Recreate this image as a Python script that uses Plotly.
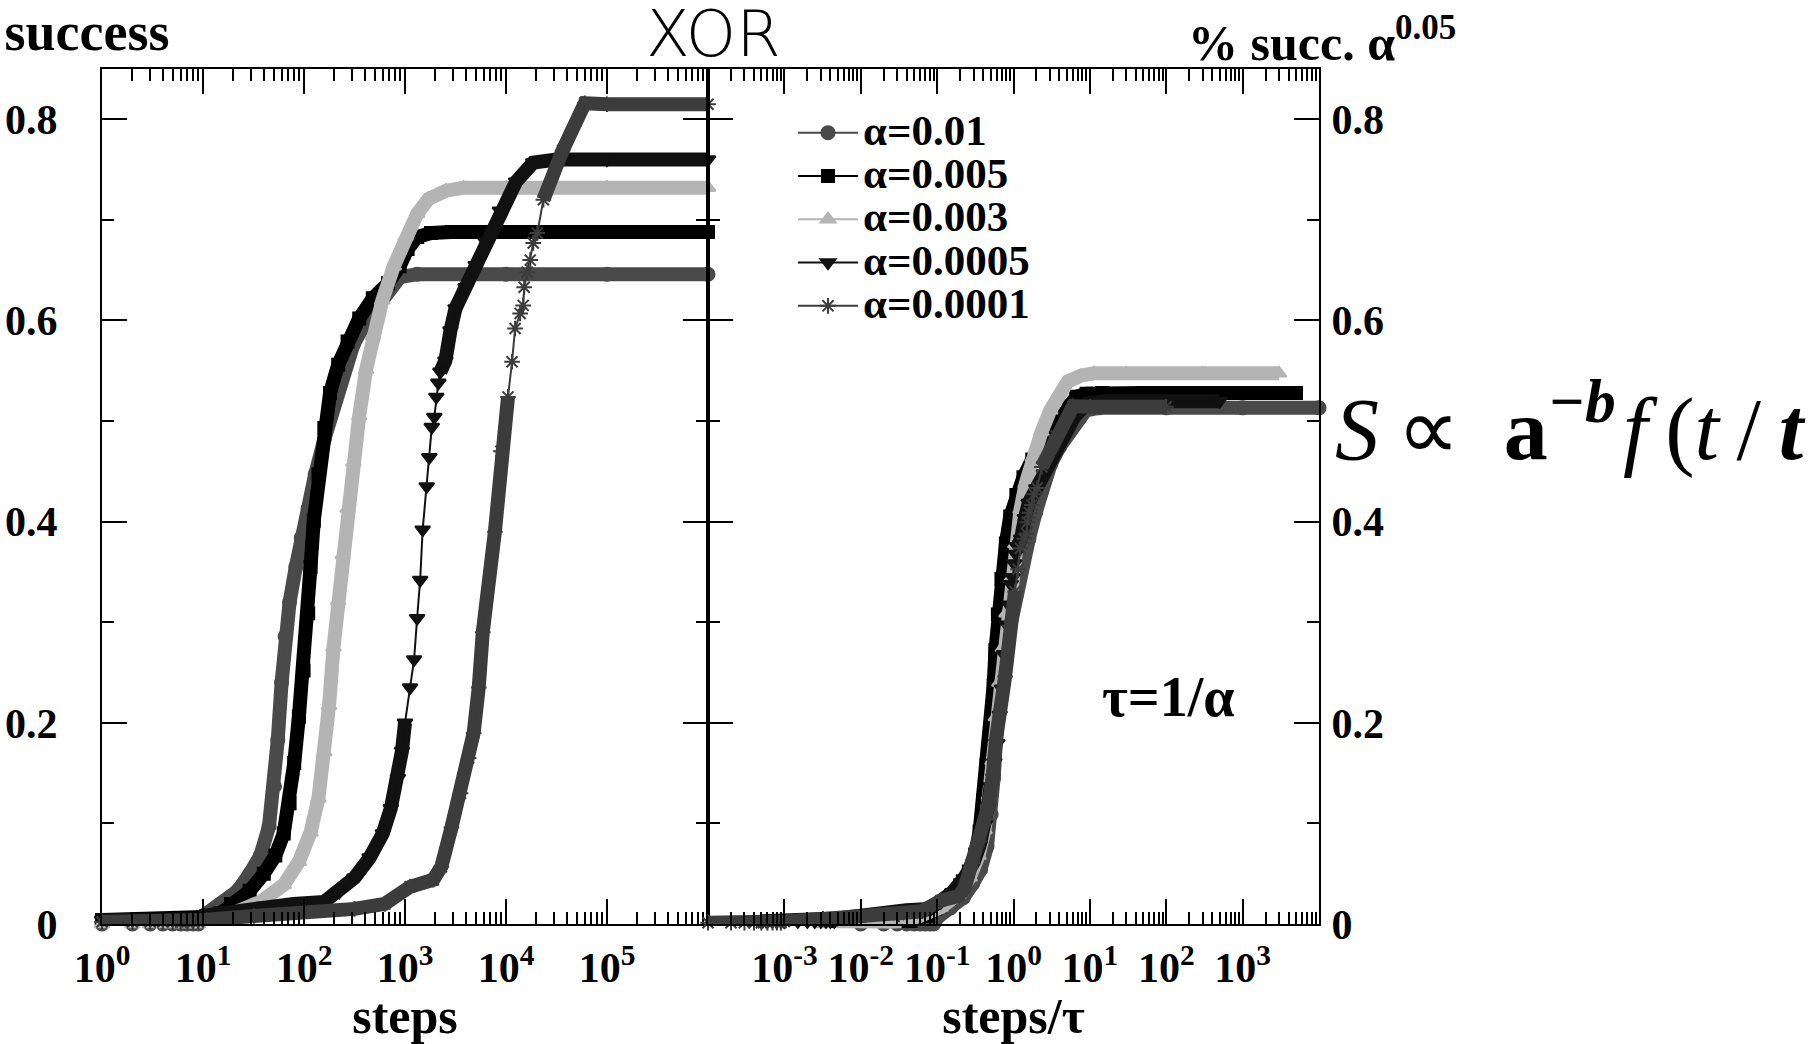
import plotly.graph_objects as go

# ---------------- data ----------------
alphas = [0.01, 0.005, 0.003, 0.0005, 0.0001]
names = ["α=0.01", "α=0.005", "α=0.003", "α=0.0005", "α=0.0001"]

steps_a01 = [1, 2, 3, 4, 5, 6, 7, 8, 9, 10, 15, 22, 29, 37, 45, 51, 55, 60, 65, 72, 83, 94,
             110, 129, 159, 196, 242, 308, 401, 522, 680, 886, 1320, 1e4, 1e5, 1e6]
succ_a01 = [0, 0, 0, 0, 0, 0, 0, 0, 0, 0.008, 0.02, 0.033, 0.05, 0.068, 0.097, 0.137, 0.183,
            0.24, 0.286, 0.32, 0.355, 0.384, 0.413, 0.447, 0.482, 0.516, 0.55, 0.576, 0.597,
            0.614, 0.631, 0.643, 0.646, 0.646, 0.646, 0.646]

steps_a005 = [1, 2, 3, 4, 5, 6, 7, 8, 9, 10, 15, 19, 29, 40, 52, 63, 72, 80, 89, 99, 110, 116,
              125, 139, 159, 181, 218, 270, 352, 480, 680, 886, 1060, 1320, 1810, 2900,
              1e4, 1e5, 1e6]
succ_a005 = [0.004, 0.004, 0.004, 0.004, 0.004, 0.004, 0.004, 0.004, 0.004, 0.007, 0.011,
             0.02, 0.033, 0.05, 0.068, 0.09, 0.12, 0.16, 0.206, 0.252, 0.309, 0.355, 0.401,
             0.447, 0.493, 0.528, 0.556, 0.579, 0.602, 0.622, 0.637, 0.654, 0.671, 0.683,
             0.687, 0.688, 0.688, 0.688, 0.688]

steps_a003 = [1, 2, 3, 4, 5, 6, 7, 8, 9, 10, 19, 37, 63, 89, 116, 139, 159, 177, 196, 218,
              242, 270, 308, 352, 412, 480, 596, 775, 1010, 1320, 1710, 2560, 3800,
              1e4, 1e5, 1e6]
succ_a003 = [0, 0, 0, 0, 0, 0, 0, 0, 0, 0.004, 0.01, 0.022, 0.039, 0.062, 0.091, 0.125,
             0.171, 0.217, 0.275, 0.321, 0.367, 0.413, 0.459, 0.505, 0.551, 0.585, 0.62,
             0.654, 0.683, 0.706, 0.721, 0.729, 0.732, 0.732, 0.732, 0.732]

steps_a0005 = [1, 2, 3, 4, 5, 6, 7, 8, 9, 10, 20, 40, 79, 158, 224, 316, 447, 603, 724, 851,
               933, 1000,
               1122, 1230, 1318, 1413, 1496, 1641, 1738, 1841, 1950, 2042, 2138, 2239,
               2512, 2818, 3162, 3981, 5012, 6310, 8710, 12590, 18620, 31620, 1e5, 1e6]
succ_a0005 = [0.004, 0.004, 0.004, 0.004, 0.004, 0.004, 0.004, 0.004, 0.004, 0.008, 0.012,
              0.018, 0.02, 0.022, 0.032, 0.046, 0.066, 0.09, 0.115, 0.145, 0.172, 0.2,
              0.235, 0.263, 0.304, 0.342, 0.392, 0.435, 0.464, 0.494, 0.504, 0.524, 0.538,
              0.549,
              0.56, 0.59, 0.612, 0.633, 0.655, 0.678, 0.709, 0.738, 0.757, 0.76, 0.76, 0.76]

steps_a0001 = [1, 2, 3, 4, 5, 6, 7, 8, 9, 10, 32, 100, 316, 631, 1122, 1905, 2291, 2884,
               3548, 4266, 4786, 5370, 5888, 7762, 8913, 10470,
               11480, 12300, 13800, 14790, 15140, 16220, 17380, 18620, 20420,
               23440, 36310, 60260, 1e5, 1e6]
succ_a0001 = [0.002, 0.002, 0.002, 0.002, 0.002, 0.002, 0.002, 0.002, 0.002, 0.004, 0.008,
              0.011, 0.015, 0.02, 0.037, 0.044, 0.057, 0.096, 0.13, 0.165, 0.19, 0.235, 0.29,
              0.39, 0.47, 0.524,
              0.559, 0.592, 0.607, 0.615, 0.633, 0.648, 0.66, 0.677, 0.687,
              0.72, 0.769, 0.816, 0.815, 0.815]

all_steps = [steps_a01, steps_a005, steps_a003, steps_a0005, steps_a0001]
all_succ = [succ_a01, succ_a005, succ_a003, succ_a0005, succ_a0001]

# right panel: steps/tau with tau = 1/alpha, success * alpha^0.05
scale_exp = 0.05

left_ticks = [1, 10, 100, 1e3, 1e4, 1e5]
left_ticktext = ["10<sup>0</sup>", "10<sup>1</sup>", "10<sup>2</sup>", "10<sup>3</sup>",
                 "10<sup>4</sup>", "10<sup>5</sup>"]
right_ticks = [1e-3, 1e-2, 1e-1, 1, 10, 100, 1e3]
right_ticktext = ["10<sup>-3</sup>", "10<sup>-2</sup>", "10<sup>-1</sup>", "10<sup>0</sup>",
                  "10<sup>1</sup>", "10<sup>2</sup>", "10<sup>3</sup>"]

# ---------------- styles ----------------
colors = ["#4a4a4a", "#000000", "#b4b4b4", "#111111", "#3c3c3c"]
symbols = ["circle", "square", "triangle-up", "triangle-down", "asterisk-open"]
msizes = [13, 12, 13, 13, 13]
# index ranges where the measured curve is sparsely sampled (no thick band there)
sparse = {3: (22, 32), 4: (26, 34)}

W, H = 1814, 1044
ML, MR, MT, MB = 102, 495, 69, 120
PW = W - ML - MR
PH = H - MT - MB
SPLIT = 708


def px_x(p):
    return (p - ML) / PW


def px_y(p):
    return (H - MB - p) / PH


SERIF = "Liberation Serif"
fig = go.Figure()

for i in range(5):
    xs = all_steps[i]
    ys = all_succ[i]
    a = alphas[i]
    xr = [s * a for s in xs]
    yr = [v * a ** scale_exp for v in ys]
    for (X, Y, xa, ya) in [(xs, ys, "x", "y"), (xr, yr, "x2", "y2")]:
        band_y = list(Y)
        if i in sparse:
            lo, hi = sparse[i]
            for k in range(lo, hi + 1):
                band_y[k] = None
        fig.add_trace(go.Scatter(
            x=X, y=band_y, mode="lines", xaxis=xa, yaxis=ya,
            line=dict(color=colors[i], width=14), connectgaps=False,
            showlegend=False, hoverinfo="skip"))
        fig.add_trace(go.Scatter(
            x=X, y=Y, mode="lines+markers", xaxis=xa, yaxis=ya,
            name='<span style="font-size:43px">' + names[i] + '</span>',
            line=dict(color=colors[i], width=2),
            marker=dict(symbol=symbols[i], size=msizes[i], color=colors[i],
                        line=dict(color=colors[i], width=2)),
            cliponaxis=False, showlegend=(xa == "x"), hoverinfo="skip"))

tickfont = dict(family=SERIF, size=42, color="black", weight="bold")
common_x = dict(type="log", showline=True, linecolor="black", linewidth=2, mirror="ticks",
                ticks="inside", ticklen=25, tickwidth=2, tickcolor="black", showgrid=False,
                zeroline=False, tickfont=tickfont, tickmode="array", automargin=False,
                ticklabelstandoff=6,
                title_font=dict(family=SERIF, size=50, color="black", weight="bold"))
minor_left = [k * 10 ** n for n in range(0, 6) for k in range(2, 10)]
minor_right = [k * 10.0 ** n for n in range(-4, 4) for k in range(2, 10)]
minor_y = dict(ticks="inside", ticklen=12, tickwidth=2, tickcolor="black", dtick=0.1,
               showgrid=False)
common_y = dict(range=[0, 0.85], showline=True, linecolor="black", linewidth=2,
                mirror="ticks", ticks="inside", ticklen=25, tickwidth=2, tickcolor="black",
                dtick=0.2, tick0=0, showgrid=False, zeroline=False, tickfont=tickfont,
                automargin=False, minor=minor_y)

fig.update_layout(
    width=W, height=H, margin=dict(l=ML, r=MR, t=MT, b=MB, autoexpand=False),
    paper_bgcolor="white", plot_bgcolor="white",
    xaxis=dict(common_x, domain=[0, px_x(SPLIT)], range=[0, 6], anchor="y",
               tickvals=left_ticks, ticktext=left_ticktext,
               minor=dict(ticks="inside", ticklen=12, tickwidth=2, tickcolor="black",
                          tickmode="array", tickvals=minor_left, showgrid=False),
               title=dict(text="steps", standoff=0)),
    xaxis2=dict(common_x, domain=[px_x(SPLIT), 1], range=[-4, 4], anchor="y2",
                tickvals=right_ticks, ticktext=right_ticktext,
                minor=dict(ticks="inside", ticklen=12, tickwidth=2, tickcolor="black",
                           tickmode="array", tickvals=minor_right, showgrid=False),
                title=dict(text="steps/τ", standoff=0)),
    yaxis=dict(common_y, anchor="x", ticklabelstandoff=34),
    yaxis2=dict(common_y, anchor="x2", side="right", ticklabelstandoff=2),
    legend=dict(x=px_x(793), y=px_y(106), xanchor="left", yanchor="top",
                bgcolor="rgba(0,0,0,0)", itemwidth=60, tracegroupgap=0,
                font=dict(family=SERIF, size=31, color="black", weight="bold")),
    showlegend=True,
)

ann_font = dict(family=SERIF, color="black", weight="bold")
fig.add_annotation(xref="paper", yref="paper", x=px_x(713), y=px_y(34), text="XOR",
                   showarrow=False, xanchor="center", yanchor="middle",
                   font=dict(family="DejaVu Sans", size=64, color="black", weight=200))
fig.add_annotation(xref="paper", yref="paper", x=px_x(171), y=px_y(32), text="% success",
                   showarrow=False, xanchor="right", yanchor="middle",
                   font=dict(ann_font, size=54))
fig.add_annotation(xref="paper", yref="paper", x=px_x(1186), y=px_y(40),
                   text="% succ. α<sup>0.05</sup>",
                   showarrow=False, xanchor="left", yanchor="middle",
                   font=dict(ann_font, size=50))
fig.add_annotation(xref="paper", yref="paper", x=px_x(1168), y=px_y(697), text="τ=1/α",
                   showarrow=False, xanchor="center", yanchor="middle",
                   font=dict(ann_font, size=56))
fig.add_annotation(xref="paper", yref="paper", x=px_x(1333), y=px_y(422),
                   text="<i>S</i>\u2009∝\u2002<b>a</b><sup><b><i>−b</i></b></sup>"
                        "\u200a<i>f</i>\u2009(<i>t</i>\u2009/\u2009<b><i>t</i></b>",
                   showarrow=False, xanchor="left", yanchor="middle",
                   font=dict(family=SERIF, size=88, color="black"))

fig.write_html("out.html")
